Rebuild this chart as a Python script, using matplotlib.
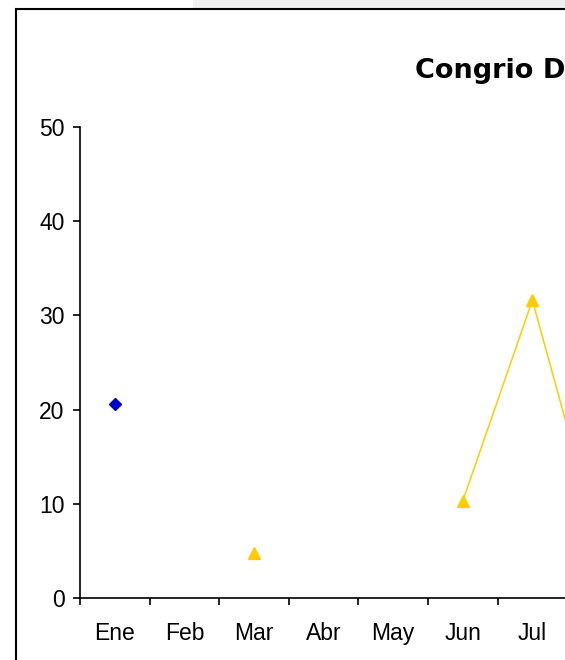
import numpy as np
import matplotlib.pyplot as plt
from matplotlib.patches import Rectangle

plt.rcParams['font.family'] = ['Liberation Sans', 'DejaVu Sans']

# Data (values beyond the visible area unknown)
meses = ['Ene', 'Feb', 'Mar', 'Abr', 'May', 'Jun', 'Jul', 'Ago', 'Sep', 'Oct', 'Nov', 'Dic']
serie_azul = [20.6, np.nan, np.nan, np.nan, np.nan, np.nan, np.nan, np.nan, np.nan, np.nan, np.nan, np.nan]
serie_amarilla = [np.nan, np.nan, 4.8, np.nan, np.nan, 10.3, 31.6, 4.8, np.nan, np.nan, np.nan, np.nan]
y_ticks = [0, 10, 20, 30, 40, 50]

W, H = 565, 660
fig = plt.figure(figsize=(W / 100, H / 100), dpi=100)

# grey strip at top and the chart border (the chart is cropped on the right)
fig.patches.append(Rectangle((193 / W, 652 / H), 1, 1, transform=fig.transFigure,
                             facecolor='#f0f0f0', edgecolor='none', zorder=0))
fig.patches.append(Rectangle((15.5 / W, -0.2), 2, (660 - 8.5) / H + 0.2, transform=fig.transFigure,
                             facecolor='none', edgecolor='black', linewidth=1.5, zorder=1))

# only the part of the plot that fits in the picture is shown
step = 69.6
ax = fig.add_axes([80 / W, (660 - 598) / H, (W - 80) / W, (598 - 127) / H])
ax.set_facecolor('none')

x = np.arange(len(meses))
ax.plot(x, serie_azul, linestyle='none', marker='D', markersize=6,
        color='#0000c8', zorder=3, clip_on=False)
ax.plot(x, serie_amarilla, color='#ffcc00', linewidth=1.1, marker='^',
        markersize=8, zorder=3, clip_on=False)

ax.set_ylim(0, 50)
ax.set_yticks(y_ticks)
ax.set_xticks(np.arange(len(meses) + 1) - 0.5)
ax.set_xticklabels([])
ax.set_xticks(x, minor=True)
ax.set_xticklabels(meses, minor=True)
ax.set_xlim(-0.5, -0.5 + (W - 80) / step)

for s in ['top', 'right']:
    ax.spines[s].set_visible(False)
for s in ['left', 'bottom']:
    ax.spines[s].set_linewidth(1.2)
ax.tick_params(axis='both', which='major', direction='out', length=5, width=1.2,
               labelsize=16.5)
ax.tick_params(axis='y', pad=6)
ax.tick_params(axis='x', which='minor', length=0, pad=17, labelsize=16.5)

fig.text(415 / W, (660 - 78) / H, 'Congrio Dorado', fontsize=19.5, fontweight='bold',
         family='DejaVu Sans', ha='left', va='baseline')

fig.savefig('out.png', dpi=100)
